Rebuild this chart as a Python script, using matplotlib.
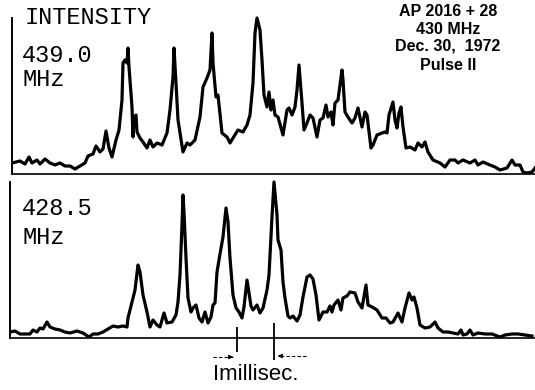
import numpy as np
import matplotlib
matplotlib.use("Agg")
from matplotlib import pyplot as plt

# pulse profiles, x = recorder channel, intensity in arbitrary units above baseline
top_x = [12, 20, 25, 29, 32, 37, 40, 45, 50, 55, 60, 65, 70, 75, 80, 85, 88, 93, 96, 100,
         103, 106, 109, 112, 116, 119, 122, 123, 125, 127, 128, 129, 132, 133, 134, 136, 137, 140, 143, 147,
         150, 153, 157, 162, 167, 170, 173, 174, 176, 178, 180, 183, 187, 190, 195, 200, 203, 207, 210, 212,
         213, 216, 218, 222, 227, 230, 233, 238, 243, 247, 250, 253, 255, 257, 260, 262, 264, 267, 269, 271,
         273, 275, 278, 283, 287, 289, 292, 295, 297, 299, 302, 304, 307, 310, 313, 317, 320, 323, 326, 328,
         331, 333, 335, 338, 342, 343, 345, 348, 352, 355, 358, 362, 365, 367, 371, 373, 377, 382, 385, 387,
         389, 393, 395, 397, 399, 401, 403, 406, 410, 415, 418, 422, 425, 428, 433, 440, 445, 450, 455, 458,
         463, 470, 475, 478, 483, 490, 495, 500, 507, 512, 515, 520, 523, 527, 532, 535]
top_i = [11, 13, 10, 17, 11, 14, 10, 15, 11, 9, 11, 8, 8, 5, 8, 11, 18, 20, 28, 22,
         25, 43, 26, 17, 34, 44, 74, 111, 114, 111, 126, 107, 67, 37, 57, 59, 42, 36, 32, 26,
         34, 27, 31, 29, 41, 64, 97, 126, 91, 54, 41, 22, 31, 29, 34, 57, 87, 96, 104, 141,
         111, 77, 79, 41, 37, 31, 36, 44, 42, 49, 59, 91, 141, 156, 144, 114, 79, 67, 82, 64,
         74, 59, 57, 39, 64, 66, 59, 67, 84, 109, 71, 44, 51, 59, 56, 37, 54, 56, 69, 57,
         62, 49, 71, 74, 104, 94, 62, 57, 51, 56, 66, 47, 62, 59, 26, 29, 39, 41, 42, 41,
         59, 72, 54, 46, 61, 67, 47, 26, 27, 24, 31, 27, 32, 22, 14, 11, 7, 14, 14, 11,
         14, 11, 14, 9, 12, 9, 7, 4, 6, 14, 9, 9, 2, 1, 2, 6]

bot_x = [10, 15, 20, 25, 30, 33, 37, 40, 43, 47, 50, 55, 60, 65, 70, 77, 83, 89, 93, 98,
         103, 108, 113, 118, 123, 127, 128, 132, 135, 138, 140, 143, 147, 150, 153, 157, 160, 164, 167, 172,
         176, 178, 180, 182, 183, 184, 186, 188, 191, 193, 196, 199, 202, 205, 208, 211, 213, 215, 217, 220,
         223, 226, 228, 230, 233, 236, 239, 242, 244, 247, 251, 253, 257, 260, 263, 267, 269, 272, 274, 277,
         278, 281, 283, 285, 288, 290, 293, 297, 300, 303, 307, 310, 313, 316, 319, 323, 327, 330, 332, 334,
         338, 341, 343, 347, 350, 355, 358, 362, 366, 368, 372, 377, 382, 386, 390, 393, 398, 402, 405, 409,
         412, 414, 417, 420, 425, 430, 435, 438, 443, 448, 453, 458, 461, 463, 467, 470, 473, 478, 485, 492,
         500, 505, 512, 518, 525, 532]
bot_i = [6, 7, 4, 4, 4, 8, 6, 10, 9, 16, 11, 9, 8, 6, 5, 7, 5, 1, 4, 4,
         6, 9, 12, 11, 12, 11, 20, 36, 48, 73, 66, 43, 26, 11, 18, 13, 11, 25, 15, 16,
         23, 36, 63, 113, 143, 126, 80, 40, 26, 30, 33, 20, 16, 26, 15, 21, 33, 35, 66, 84,
         101, 130, 116, 80, 43, 30, 26, 20, 31, 58, 32, 28, 33, 25, 30, 48, 63, 121, 156, 123,
         98, 88, 56, 40, 22, 20, 22, 17, 23, 41, 61, 63, 59, 43, 18, 26, 26, 32, 26, 33,
         38, 28, 40, 42, 46, 45, 36, 30, 53, 33, 31, 28, 20, 20, 15, 16, 25, 16, 30, 45,
         38, 41, 30, 13, 10, 11, 16, 10, 6, 6, 5, 4, 8, 3, 4, 8, 3, 5, 4, 4,
         1, 3, 4, 4, 3, 2]

# 1 millisecond marker channels
ms_marks = [237, 274]

W, H = 535, 390
fig = plt.figure(figsize=(W / 100, H / 100), dpi=100)

ax1 = fig.add_axes([12 / W, (H - 174) / H, (W - 12) / W, 160 / H])
ax2 = fig.add_axes([10 / W, (H - 338) / H, (W - 10) / W, 160 / H])

for ax, x, y, x0 in [(ax1, top_x, top_i, 12), (ax2, bot_x, bot_i, 10)]:
    ax.plot(x, y, color='black', lw=2.3, solid_joinstyle='round')
    ax.set_xlim(x0, W)
    ax.set_ylim(0, 160)
    ax.set_xticks([])
    ax.set_yticks([])
    for s in ['top', 'right']:
        ax.spines[s].set_visible(False)
    ax.spines['left'].set_bounds(0, 156)
    ax.spines['left'].set_linewidth(1.4)
    ax.spines['bottom'].set_linewidth(1.2)
    ax.patch.set_alpha(0)

mono = ['Liberation Mono', 'DejaVu Sans Mono']
ax1.text(25, 157, 'INTENSITY', family=mono, fontsize=17, va='center', ha='left')
ax1.text(22, 119, '439.0', family=mono, fontsize=17, va='center', ha='left')
ax1.text(22, 95, 'MHz', family=mono, fontsize=17, va='center', ha='left')
ax2.text(22, 130, '428.5', family=mono, fontsize=17, va='center', ha='left')
ax2.text(22, 101, 'MHz', family=mono, fontsize=17, va='center', ha='left')

sans = ['Liberation Sans', 'DejaVu Sans']
info = ['AP 2016 + 28', '430 MHz', 'Dec. 30,  1972', 'Pulse II']
info_y = [162, 145, 128, 109]
for s, yy in zip(info, info_y):
    ax1.text(448, yy, s, family=sans, fontsize=11.5, fontweight='bold',
             ha='center', va='center')

# millisecond scale bar
ax2.vlines(ms_marks[0], -14, 11, color='black', lw=1.3, clip_on=False)
ax2.vlines(ms_marks[1], -22, 15, color='black', lw=1.3, clip_on=False)
ax2.plot([213, 233], [-19, -19], color='black', lw=0.8, ls=(0, (3, 2)), clip_on=False)
ax2.plot([306, 278], [-18, -18], color='black', lw=0.8, ls=(0, (3, 2)), clip_on=False)
ax2.annotate('', xy=(ms_marks[0] - 1, -19), xytext=(228, -19), annotation_clip=False,
             arrowprops=dict(arrowstyle='-|>', color='black', lw=0.8, mutation_scale=6))
ax2.annotate('', xy=(ms_marks[1] + 1, -18), xytext=(283, -18), annotation_clip=False,
             arrowprops=dict(arrowstyle='-|>', color='black', lw=0.8, mutation_scale=6))
ax2.text(256, -37, 'Imillisec.', family=sans, fontsize=16, ha='center', va='center')

fig.savefig('out.png', dpi=100)
